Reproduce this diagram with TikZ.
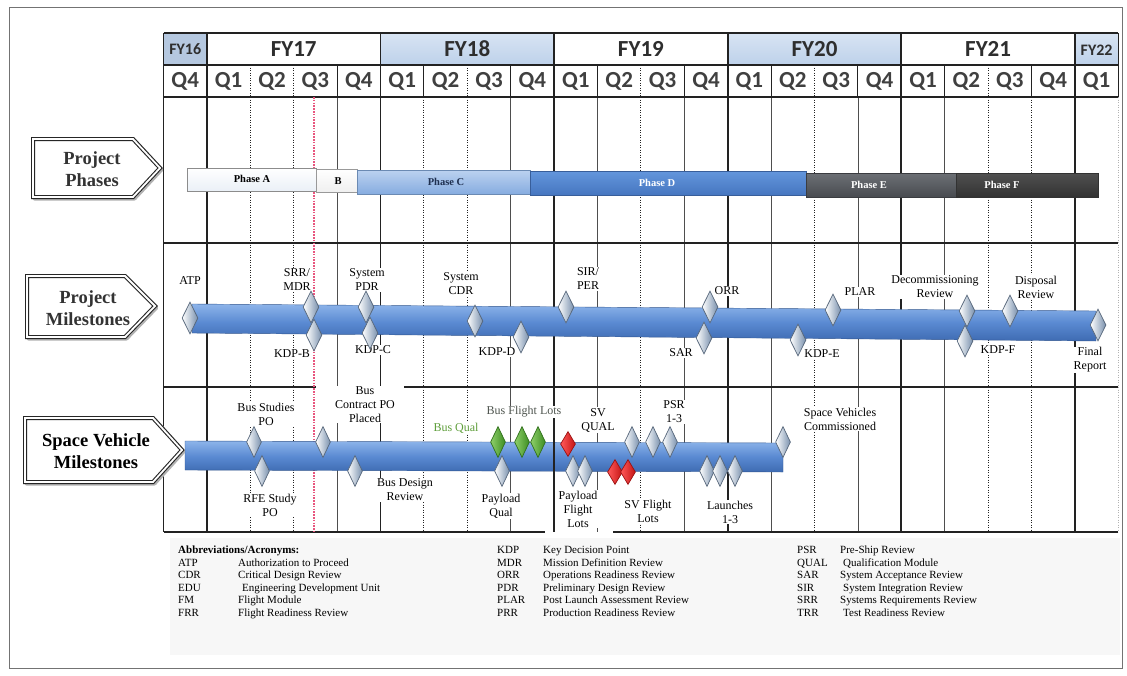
\documentclass[tikz,border=0pt]{standalone}
\usepackage{fontspec}
\setmainfont{Liberation Serif}
\newfontfamily\hdr{Carlito}
\usetikzlibrary{shapes.geometric}
\definecolor{gridc}{HTML}{222222}
\definecolor{hdrtxt}{HTML}{2E2E2E}
\definecolor{qtxt}{HTML}{404040}
\definecolor{fyblueA}{HTML}{D8E4F3}
\definecolor{fyblueB}{HTML}{BDD1EA}
\definecolor{fygrey}{HTML}{B5C8E0}
\definecolor{pinkl}{HTML}{E8557E}
\definecolor{barlight}{HTML}{8DB4EA}
\definecolor{barmid}{HTML}{5A8AD2}
\definecolor{bardark}{HTML}{3E6BB2}
\definecolor{diaedge}{HTML}{56667A}
\definecolor{diadark}{HTML}{7890AD}
\definecolor{greenl}{HTML}{8FD06A}
\definecolor{greend}{HTML}{3C8C22}
\definecolor{redl}{HTML}{FF5A5A}
\definecolor{redd}{HTML}{C41414}
\definecolor{busgreen}{HTML}{5E9E3A}
\definecolor{busgrey}{HTML}{4F554F}
\definecolor{phAa}{HTML}{FFFFFF}
\definecolor{phAb}{HTML}{EAF0F7}
\definecolor{phCa}{HTML}{BCD2F0}
\definecolor{phCb}{HTML}{86ACE0}
\definecolor{phCt}{HTML}{1F3050}
\definecolor{phDa}{HTML}{6396DC}
\definecolor{phDb}{HTML}{4676C0}
\definecolor{phEa}{HTML}{6C7075}
\definecolor{phEb}{HTML}{484B50}
\definecolor{phFa}{HTML}{505050}
\definecolor{phFb}{HTML}{323232}
\begin{document}
\begin{tikzpicture}[x=1pt,y=-1pt,
  lbl/.style={font=\fontsize{12}{14}\selectfont, align=center, inner sep=0.8pt, fill=white},
  dia/.style={diamond, minimum width=16pt, minimum height=32pt, inner sep=0pt, draw=diaedge, line width=0.7pt, left color=white, right color=diadark},
  sdia/.style={dia, minimum width=15pt, minimum height=31pt},
  gdia/.style={sdia, draw=greend!80!black, left color=greenl, right color=greend},
  rdia/.style={sdia, minimum height=25pt, draw=redd!80!black, left color=redl, right color=redd},
  fyline/.style={draw=gridc, line width=1.8pt},
  hthin/.style={draw=gridc, line width=1pt},
  thinline/.style={draw=gridc!80, line width=0.6pt},
  dotline/.style={draw=gridc, line width=1.1pt, dash pattern=on 1.2pt off 1.3pt},
  hdrq/.style={font=\hdr\bfseries\fontsize{23}{23}\selectfont, text=qtxt, inner sep=0pt},
  hdrfy/.style={font=\hdr\bfseries\fontsize{23}{23}\selectfont, text=hdrtxt, inner sep=0pt},
  hdrfys/.style={font=\hdr\bfseries\fontsize{16}{16}\selectfont, text=hdrtxt, inner sep=0pt},
  arrowbox/.style={draw=black!85, line width=1.1pt, double=white, double distance=1.8pt, line join=miter, fill=white},
  arrowshadow/.style={draw=black!30, line width=4pt, line join=round},
  arrowtxt/.style={font=\bfseries\fontsize{18.5}{22}\selectfont, align=center, inner sep=0pt},
  phase/.style={font=\bfseries\fontsize{10.5}{12}\selectfont, inner sep=0pt},
  abb/.style={font=\fontsize{11}{12}\selectfont, anchor=base west, inner sep=0pt},
]
\useasboundingbox (0,0) rectangle (1127,675);
\fill[white] (0,0) rectangle (1127,675);
% legend background and outer frame
\fill[gray!6] (170,538) rectangle (1120,655);
\draw[black!55, line width=0.8pt] (9,7) rectangle (1122,668);

% header fills
\fill[fygrey] (163.5,33) rectangle (206.9,65);
\shade[top color=fyblueA, bottom color=fyblueB] (380.5,33) rectangle (554.1,65);
\shade[top color=fyblueA, bottom color=fyblueB] (727.7,33) rectangle (901.3,65);
\shade[top color=fyblueA, bottom color=fyblueB] (1074.9,33) rectangle (1118.3,65);

% grid: vertical lines
\foreach \k in {0,1,5,9,13,17,21}
  \draw[fyline] ({163.5+43.4*\k},33) -- ({163.5+43.4*\k},532);
\draw[hthin] ({163.5+43.4*22},33) -- ({163.5+43.4*22},97);
\foreach \k in {2,3,7,11,15,19}
  \draw[dotline] ({163.5+43.4*\k},65) -- ({163.5+43.4*\k},97);
\foreach \k in {4,6,8,10,12,14,16,18,20}
  \draw[hthin] ({163.5+43.4*\k},65) -- ({163.5+43.4*\k},97);
\foreach \k in {2,3,6,7,11,15,19,20}
  \draw[dotline] ({163.5+43.4*\k},97) -- ({163.5+43.4*\k},532);
\foreach \k in {4,8,10,12,14,16,18}
  \draw[thinline] ({163.5+43.4*\k},97) -- ({163.5+43.4*\k},532);
\draw[dotline, draw=gray!60] ({163.5+43.4*22},97) -- ({163.5+43.4*22},532);
% grid: horizontal lines
\foreach \yy in {33,65,97,243}
  \draw[fyline] (163.5,\yy) -- (1118.3,\yy);
\draw[fyline] (163.5,387) -- (316,387);
\draw[fyline] (404,387) -- (1118.3,387);
\draw[fyline] (163.5,532) -- (545,532);
\draw[fyline] (613,532) -- (1118.3,532);

% header text
\node[hdrfys] (fy16) at (185.2,49) {FY16};
\node[hdrfy] (fy17) at (293.7,49) {FY17};
\node[hdrfy] (fy18) at (467.3,49) {FY18};
\node[hdrfy] (fy19) at (640.9,49) {FY19};
\node[hdrfy] (fy20) at (814.5,49) {FY20};
\node[hdrfy] (fy21) at (988.1,49) {FY21};
\node[hdrfys] (fy22) at (1096.6,50) {FY22};
\foreach \k in {0,...,21} {
  \pgfmathtruncatemacro\qq{mod(\k+3,4)+1}
  \node[hdrq] (q\k) at ({163.5+43.4*(\k+0.5)},81) {Q\qq};
}

% pink line
\draw[pinkl, line width=1.5pt, dash pattern=on 1.6pt off 1.2pt] (314,97) -- (314,532);

% phases
\draw[black!45, line width=0.5pt, top color=phAa, bottom color=phAb] (187,168) rectangle (316,191);
\draw[black!40, line width=0.5pt, top color=white, bottom color=gray!12] (316,169) rectangle (357,192);
\draw[phCb!80!black, line width=0.5pt, top color=phCa, bottom color=phCb] (357,170) rectangle (530,194);
\draw[phDb!80!black, line width=0.5pt, top color=phDa, bottom color=phDb] (530,171) rectangle (806,195);
\draw[phEb!80!black, line width=0.5pt, top color=phEa, bottom color=phEb] (806,173) rectangle (956,197);
\draw[phFb, line width=0.5pt, top color=phFa, bottom color=phFb] (956,173) rectangle (1098,197);
\node[phase] (pa) at (252,179) {Phase A};
\node[phase] (pb) at (338,181) {B};
\node[phase, text=phCt] (pc) at (446,182) {Phase C};
\node[phase, text=white] (pd) at (657,183) {Phase D};
\node[phase, text=white] (pe) at (869,185) {Phase E};
\node[phase, text=white] (pf) at (1002,185) {Phase F};

% milestone bar and SV bar
\draw[bardark!80!black, line width=0.4pt, top color=barlight, bottom color=bardark, middle color=barmid]
  (192,304) -- (1096,311) -- (1096,341) -- (192,333) -- cycle;
\draw[bardark!80!black, line width=0.4pt, top color=barlight, bottom color=bardark, middle color=barmid]
  (185,441) -- (783,443) -- (783,472) -- (185,470) -- cycle;
\draw[fyline] (554.1,423) -- (554.1,480);

% project milestone labels
\node[lbl] (atp) at (190,281) {ATP};
\node[lbl] (srr) at (297,280) {SRR/\\MDR};
\node[lbl] (pdr) at (367,280) {System\\PDR};
\node[lbl] (cdr) at (461,284) {System\\CDR};
\node[lbl] (sir) at (588,279) {SIR/\\PER};
\node[lbl] (orr) at (727,291) {ORR};
\node[lbl] (plar) at (860,292) {PLAR};
\node[lbl] (decom) at (935,287) {Decommissioning\\Review};
\node[lbl] (disp) at (1036,287) {Disposal\\Review};
\node[lbl] (kdpb) at (292,354) {KDP-B};
\node[lbl] (kdpc) at (373,350) {KDP-C};
\node[lbl] (kdpd) at (497,352) {KDP-D};
\node[lbl] (sar) at (681,353) {SAR};
\node[lbl] (kdpe) at (822,354) {KDP-E};
\node[lbl] (kdpf) at (998,350) {KDP-F};
\node[lbl] (final) at (1090,360) {Final\\Report};

% space vehicle labels
\node[lbl] (bsp) at (266,414) {Bus Studies\\PO};
\node[lbl] (bcp) at (365,404.5) {Bus\\Contract PO\\Placed};
\node[lbl, text=busgreen] (bq) at (456,428) {Bus Qual};
\node[lbl, text=busgrey] (bfl) at (524,412) {Bus Flight Lots};
\node[lbl] (svq) at (598,420) {SV\\QUAL};
\node[lbl] (psr) at (674,412) {PSR\\1-3};
\node[lbl] (svc) at (840,419) {Space Vehicles\\Commissioned};
\node[lbl] (rfe) at (270,505) {RFE Study\\PO};
\node[lbl] (bdr) at (405,490) {Bus Design\\Review};
\node[lbl] (pq) at (501,506) {Payload\\Qual};
\node[lbl] (pfl) at (578,509) {Payload\\Flight\\Lots};
\node[lbl] (svfl) at (648,511) {SV Flight\\Lots};
\node[lbl] (lau) at (730,512) {Launches\\1-3};

% project milestone diamonds
\node[dia] (datp) at (190,318) {};
\node[dia] (dsrr) at (311,307) {};
\node[dia] (dkdpb) at (314,335) {};
\node[dia] (dpdr) at (366,307) {};
\node[dia] (dkdpc) at (370,333) {};
\node[dia] (dcdr) at (475,321) {};
\node[dia] (dkdpd) at (521,337) {};
\node[dia] (dsir) at (566,307) {};
\node[dia] (dorr) at (710,307) {};
\node[dia] (dsar) at (704,338) {};
\node[dia] (dkdpe) at (798,340) {};
\node[dia] (dplar) at (833,310) {};
\node[dia] (ddecom) at (967,311) {};
\node[dia] (dkdpf) at (965,341) {};
\node[dia] (ddisp) at (1010,311) {};
\node[dia] (dfinal) at (1098,325) {};

% space vehicle diamonds
\node[sdia] (sbsp) at (254,442) {};
\node[sdia] (sbcp) at (323,442) {};
\node[sdia] (srfe) at (262,471) {};
\node[sdia] (sbdr) at (355,471) {};
\node[sdia] (spq) at (502,471) {};
\node[gdia] (sbq) at (498,442) {};
\node[gdia] (sbf1) at (522,442) {};
\node[gdia] (sbf2) at (538,442) {};
\node[sdia] (spf1) at (573,471) {};
\node[sdia] (spf2) at (585,471) {};
\node[rdia] (ssvq) at (568,444) {};
\node[rdia] (ssvf1) at (615,472) {};
\node[rdia] (ssvf2) at (628,472) {};
\node[sdia] (sb1) at (632,442) {};
\node[sdia] (spsr1) at (653,442) {};
\node[sdia] (spsr2) at (670,442) {};
\node[sdia] (sl1) at (707,471) {};
\node[sdia] (sl2) at (720,471) {};
\node[sdia] (sl3) at (735,471) {};
\node[sdia] (ssvc) at (783,442) {};

% left arrow labels
\draw[arrowshadow, shift={(1.5,1.5)}] (33,139) -- (133,139) -- (160,168) -- (133,197) -- (33,197) -- cycle;
\draw[arrowbox] (33,139) -- (133,139) -- (160,168) -- (133,197) -- (33,197) -- cycle;
\node[arrowtxt, text=black!80] (apph) at (92,169) {Project\\Phases};
\draw[arrowshadow, shift={(1.5,1.5)}] (27,276) -- (125,276) -- (155,306) -- (125,337) -- (27,337) -- cycle;
\draw[arrowbox] (27,276) -- (125,276) -- (155,306) -- (125,337) -- (27,337) -- cycle;
\node[arrowtxt, text=black!80] (apms) at (88,308) {Project\\Milestones};
\draw[arrowshadow, shift={(1.5,1.5)}] (25,418) -- (153,418) -- (182,450) -- (153,482) -- (25,482) -- cycle;
\draw[arrowbox] (25,418) -- (153,418) -- (182,450) -- (153,482) -- (25,482) -- cycle;
\node[arrowtxt] (asvm) at (96,451) {Space Vehicle\\Milestones};

% legend
\node[abb, font=\bfseries\fontsize{11}{12}\selectfont] (abbh) at (178,553.5) {Abbreviations/Acronyms:};
\foreach \a/\d/\r [count=\i] in {ATP/Authorization to Proceed/1, CDR/Critical Design Review/2, EDU/\hspace{4pt}Engineering Development Unit/3, FM/Flight Module/4, FRR/Flight Readiness Review/5} {
  \node[abb] (ca\i) at (178,{553.5+12.6*\r}) {\a};
  \node[abb] (cd\i) at (238,{553.5+12.6*\r}) {\d};
}
\foreach \a/\d/\r [count=\i] in {KDP/Key Decision Point/0, MDR/Mission Definition Review/1, ORR/Operations Readiness Review/2, PDR/Preliminary Design Review/3, PLAR/Post Launch Assessment Review/4, PRR/Production Readiness Review/5} {
  \node[abb] (ka\i) at (497,{553.5+12.6*\r}) {\a};
  \node[abb] (kd\i) at (543,{553.5+12.6*\r}) {\d};
}
\foreach \a/\d/\r [count=\i] in {PSR/Pre-Ship Review/0, QUAL/\hspace{3pt}Qualification Module/1, SAR/System Acceptance Review/2, SIR/\hspace{3pt}System Integration Review/3, SRR/Systems Requirements Review/4, TRR/\hspace{3pt}Test Readiness Review/5} {
  \node[abb] (pa\i) at (797,{553.5+12.6*\r}) {\a};
  \node[abb] (pd\i) at (840,{553.5+12.6*\r}) {\d};
}
\end{tikzpicture}
\end{document}
